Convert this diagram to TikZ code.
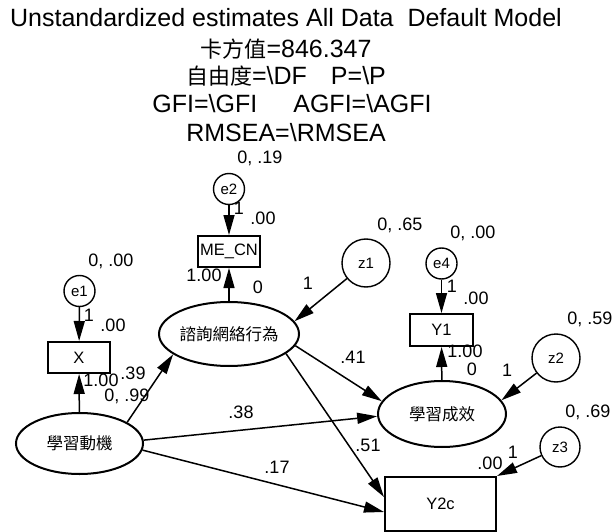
\documentclass[tikz,border=0pt]{standalone}
\usepackage{fontspec}
\setmainfont{Liberation Sans}
\newfontfamily\cjk{Noto Sans CJK TC}
\usetikzlibrary{arrows.meta,shapes.geometric}

\tikzset{
  conn/.style={draw, line width=1.5pt, -{Triangle[length=20pt,width=11pt]}},
  errc/.style={circle, draw, line width=1.4pt, inner sep=0pt, font=\fontsize{15}{15}\selectfont},
  obs/.style={rectangle, draw, line width=2pt, inner sep=0pt, font=\fontsize{16.5}{16.5}\selectfont},
  lat/.style={ellipse, draw, line width=2pt, inner sep=0pt, font=\cjk\fontsize{16.5}{16.5}\selectfont},
  lbl/.style={inner sep=0pt, font=\fontsize{18}{18}\selectfont, text height=12.9pt, text depth=0pt},
  ttl/.style={inner sep=0pt, anchor=base, font=\fontsize{25}{25}\selectfont},
}
\newcommand{\zh}[1]{{\cjk\fontsize{22}{22}\selectfont #1}}

\begin{document}
\begin{tikzpicture}[x=1pt,y=-1pt]
\useasboundingbox[fill=white] (0,0) rectangle (616,532);

% heading
\node[ttl] (t1) at (286,27) {Unstandardized estimates All Data\ \ Default Model};
\node[ttl] (t2) at (286,58) {\zh{卡方值}=846.347};
\node[ttl] (t3) at (286,85) {\zh{自由度}=\textbackslash DF\hspace{24pt}P=\textbackslash P};
\node[ttl] (t4) at (292,113) {GFI=\textbackslash GFI\hspace{36pt}AGFI=\textbackslash AGFI};
\node[ttl] (t5) at (286,142) {RMSEA=\textbackslash RMSEA};

% variables
\node[errc, minimum size=31pt] (e2) at (229,189) {e2};
\node[obs, minimum width=62pt, minimum height=31pt] (me) at (229,251.5) {ME\_CN};
\node[lat, minimum width=128pt, minimum height=64pt] (cons) at (229,334) {諮詢網絡行為};

\node[errc, minimum size=31pt] (e1) at (79.5,291) {e1};
\node[obs, minimum width=62pt, minimum height=31pt] (x) at (79,357.5) {X};
\node[lat, minimum width=127pt, minimum height=61pt] (mot) at (79.5,443.5) {學習動機};

\node[errc, minimum size=48pt] (z1) at (366,263) {z1};
\node[errc, minimum size=31pt] (e4) at (441.5,263.5) {e4};
\node[obs, minimum width=63pt, minimum height=32pt] (y1) at (441.5,330) {Y1};
\node[lat, minimum width=128pt, minimum height=66pt] (eff) at (442,414) {學習成效};
\node[errc, minimum size=48pt] (z2) at (556,358) {z2};
\node[errc, minimum size=40pt] (z3) at (560,447) {z3};
\node[obs, minimum width=111pt, minimum height=54pt] (y2) at (440.5,504) {Y2c};

% paths
\draw[conn] (e2) -- (me);
\draw[conn] (cons) -- (me);
\draw[conn] (e1) -- (x);
\draw[conn] (mot) -- (x);
\draw[conn] (mot.24) -- (cons.200);
\draw[conn] (mot.3) -- (eff.182);
\draw[conn] (mot.-6) -- ([yshift=-8pt]y2.west);
\draw[conn] (cons.-10) -- (eff.168);
\draw[conn] (cons.-19) -- ([yshift=7pt]y2.west);
\draw[conn] (z1) -- (cons.11);
\draw[conn] (e4) -- (y1);
\draw[conn] (eff) -- (y1);
\draw[conn] (z2) -- (eff.13);
\draw[conn] (z3) -- (y2.north east);

% estimates
\node[lbl] (l1) at (260,157) {0, .19};
\node[lbl] (l2) at (239,208) {1};
\node[lbl] (l3) at (263,218) {.00};
\node[lbl] (l4) at (204,275) {1.00};
\node[lbl] (l5) at (258,287) {0};
\node[lbl] (l6) at (308,283) {1};
\node[lbl] (l7) at (400,224) {0, .65};
\node[lbl] (l8) at (473,232) {0, .00};
\node[lbl] (l9) at (452,286) {1};
\node[lbl] (l10) at (476,298) {.00};
\node[lbl] (l11) at (590,318) {0, .59};
\node[lbl] (l12) at (465,351) {1.00};
\node[lbl] (l13) at (472,369.5) {0};
\node[lbl] (l14) at (353,357) {.41};
\node[lbl] (l15) at (507,370) {1};
\node[lbl] (l16) at (588,411) {0, .69};
\node[lbl] (l17) at (490,463) {.00};
\node[lbl] (l18) at (513,452) {1};
\node[lbl] (l19) at (368,445) {.51};
\node[lbl] (l20) at (277,467) {.17};
\node[lbl] (l21) at (241,412) {.38};
\node[lbl] (l22) at (111,260) {0, .00};
\node[lbl] (l23) at (89,315) {1};
\node[lbl] (l24) at (113,325) {.00};
\node[lbl] (l25) at (101,380) {1.00};
\node[lbl] (l26) at (133,373) {.39};
\node[lbl] (l27) at (127,395) {0, .99};
\end{tikzpicture}
\end{document}
